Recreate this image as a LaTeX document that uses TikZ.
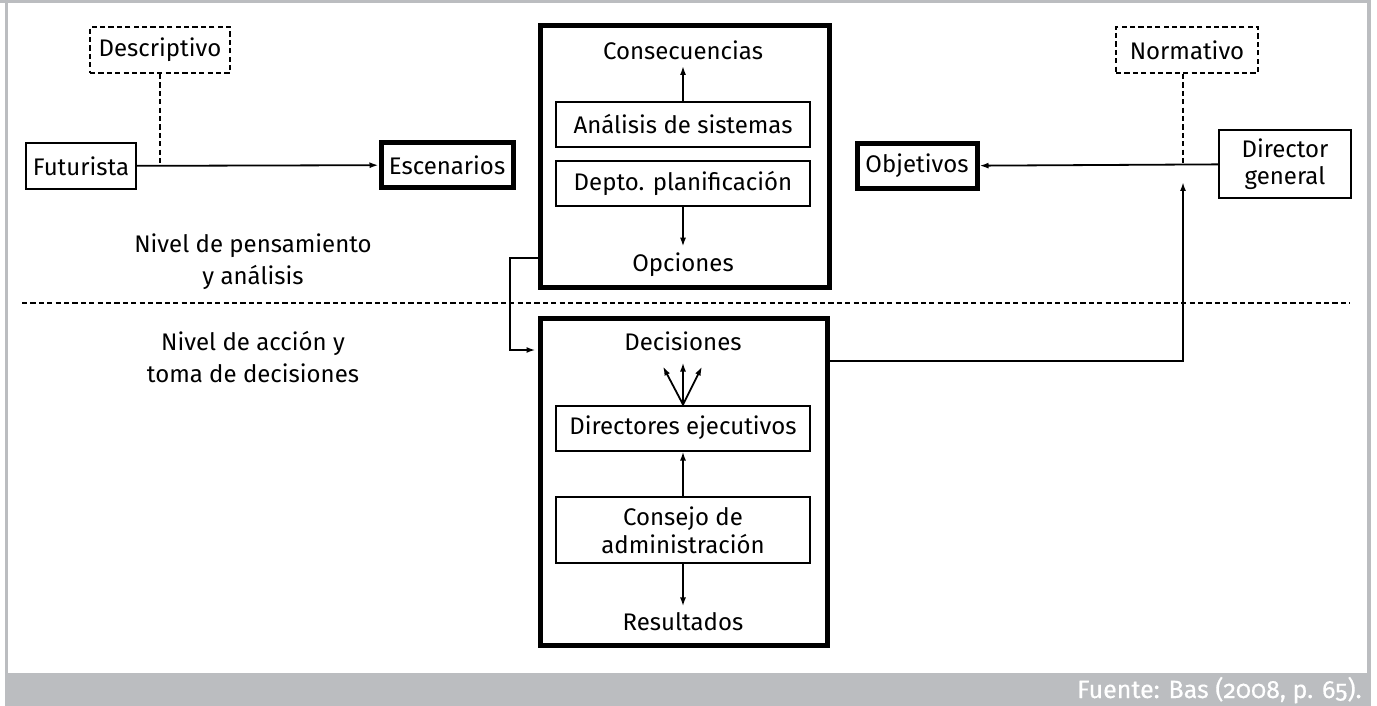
\documentclass[tikz,border=0pt]{standalone}
\usepackage{fontspec}
\setmainfont{Fira Sans}
\usetikzlibrary{arrows.meta}
\definecolor{marco}{RGB}{187,189,192}
\tikzset{
  caja/.style={draw, line width=1pt, inner sep=0pt, align=center,
    minimum height=23pt, font=\fontsize{12}{13.8}\selectfont},
  cajagruesa/.style={caja, line width=2.5pt},
  cajapunt/.style={caja, dash pattern=on 2.6pt off 1.6pt},
  rotulo/.style={align=center, inner sep=3pt, font=\fontsize{12}{16}\selectfont},
  linea/.style={line width=0.9pt},
  flecha/.style={linea, -{Latex[length=4.5pt,width=3pt]}},
  punteada/.style={line width=1pt, dash pattern=on 2.6pt off 1.6pt}
}
\begin{document}
\begin{tikzpicture}[x=0.5pt, y=-0.5pt]
  \useasboundingbox (0,0) rectangle (1377,706);
  % marco gris
  \fill[marco] (0,0) rectangle (1371,3);
  \fill[marco] (5,0) rectangle (8,673);
  \fill[marco] (1367,0) rectangle (1371,673);
  \fill[marco] (5,673) rectangle (1371,706);
  \node[anchor=base east, inner sep=0pt, text=white,
    font=\fontsize{12.5}{14}\selectfont\addfontfeatures{Numbers=OldStyle,FakeBold=0.4}]
    (fuente) at (1362,698) {Fuente: Bas (2008, p. 65).};

  % nivel de pensamiento
  \node[caja, minimum width=55pt] (fut) at (81,166) {Futurista};
  \node[cajapunt, minimum width=70pt] (desc) at (160,50) {Descriptivo};
  \node[cajagruesa, minimum width=66pt, minimum height=22.5pt] (esc) at (447,165) {Escenarios};
  \draw[flecha] (fut) -- (esc);
  \draw[punteada] (desc.south) -- (desc.south |- fut.east);

  \node[draw, line width=2.5pt, minimum width=144.5pt, minimum height=131pt] (pens) at (685,156.5) {};
  \node[rotulo] (conse) at (683,50) {Consecuencias};
  \node[caja, minimum width=127pt, minimum height=22.5pt] (ana) at (683,124.5) {Análisis de sistemas};
  \node[caja, minimum width=127pt, minimum height=22.5pt] (depto) at (683,183.5) {Depto. planificación};
  \node[rotulo] (opc) at (683,265) {Opciones};
  \draw[flecha] (ana) -- (conse);
  \draw[flecha] (depto) -- (opc);

  \node[cajagruesa, minimum width=60pt, minimum height=22.5pt] (obj) at (917,166) {Objetivos};
  \node[caja, minimum width=66pt, minimum height=34pt] (dirgen) at (1285,164) {Director\\general};
  \node[cajapunt, minimum width=71pt] (norm) at (1187,50) {Normativo};
  \draw[flecha] (dirgen) -- (obj);
  \coordinate (cruce) at (1183,0);
  \draw[punteada] (cruce |- norm.south) -- (cruce |- obj.east);

  \node[rotulo] (npens) at (253,262) {Nivel de pensamiento\\y análisis};

  % separacion
  \draw[punteada] (22,303) -- (1350,303);

  % nivel de accion
  \node[rotulo] (naccion) at (253,357) {Nivel de acción y\\toma de decisiones};
  \node[draw, line width=2.5pt, minimum width=143.5pt, minimum height=163.5pt] (accion) at (684,482) {};
  \node[rotulo] (deci) at (683,341) {Decisiones};
  \node[caja, minimum width=127pt, minimum height=22.5pt] (direj) at (683,428) {Directores ejecutivos};
  \node[caja, minimum width=127pt, minimum height=33pt] (consejo) at (683,530) {Consejo de\\administración};
  \node[rotulo] (res) at (683,622) {Resultados};
  \draw[flecha] (direj.north) -- ++(0,-42);
  \draw[flecha] (direj.north) -- ++(-20,-38);
  \draw[flecha] (direj.north) -- ++(19,-38);
  \draw[flecha] (consejo) -- (direj);
  \draw[flecha] (consejo) -- (res);

  % conexiones entre niveles
  \draw[flecha, shorten >=1.25pt] ([yshift=16pt]pens.south west) -- ++(-28,0)
    |- ([yshift=-17pt]accion.north west);
  \coordinate (codo) at (1183,361);
  \draw[flecha] (accion.east |- codo) -- (codo) -- ([yshift=-8pt]codo |- obj.east);
\end{tikzpicture}
\end{document}
